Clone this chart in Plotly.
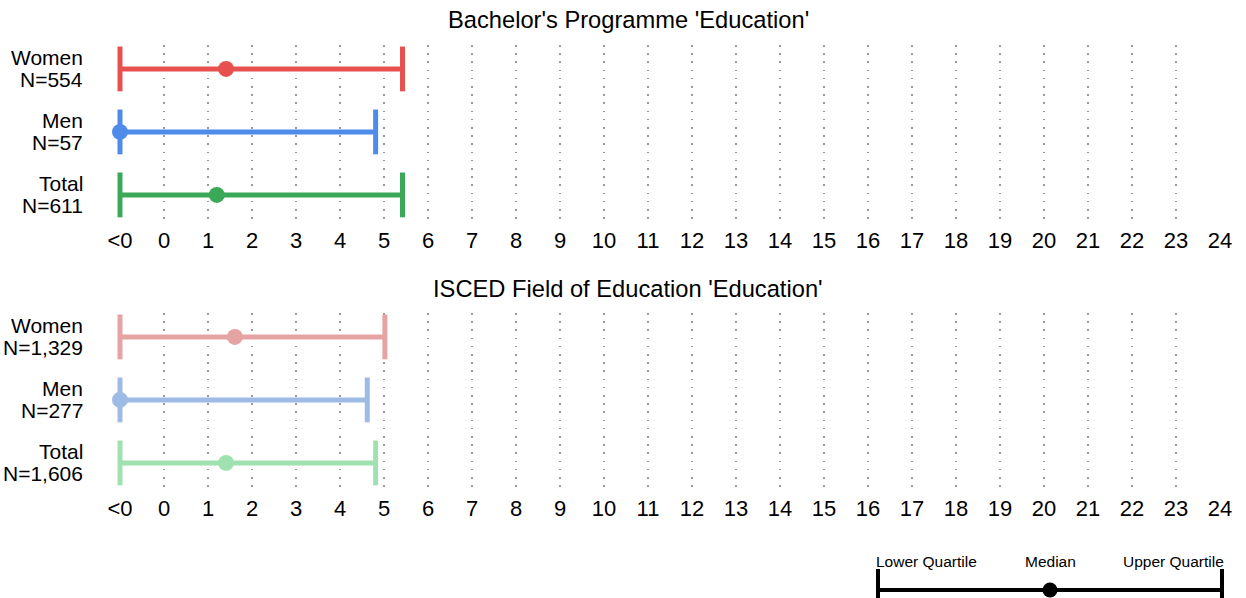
import plotly.graph_objects as go

# ---------------- data ----------------
x_positions = list(range(-1, 25))
x_labels = ["<0"] + [str(i) for i in range(25)]

groups = ["Women", "Men", "Total"]

panel1_title = "Bachelor's Programme 'Education'"
panel1_n = ["554", "57", "611"]
panel1_lower = [-1, -1, -1]
panel1_median = [1.41, -1, 1.2]
panel1_upper = [5.42, 4.81, 5.42]

panel2_title = "ISCED Field of Education 'Education'"
panel2_n = ["1,329", "277", "1,606"]
panel2_lower = [-1, -1, -1]
panel2_median = [1.61, -1, 1.41]
panel2_upper = [5.02, 4.62, 4.81]

legend_labels = ["Lower Quartile", "Median", "Upper Quartile"]
legend_values = [0, 0.5, 1]

# ---------------- styles ----------------
W, H = 1246, 598
FONT = "Liberation Sans, Arial, sans-serif"
colors1 = ["#E8504F", "#4F8BE8", "#3BA857"]
colors2 = ["#E5A3A3", "#9DBBE5", "#9FE2B0"]


def py(px):
    return 1 - px / H


def px_x(px):
    return px / W


fig = go.Figure()
annotations = []

panels = [
    (panel1_title, panel1_n, panel1_lower, panel1_median, panel1_upper, colors1, "x", "y"),
    (panel2_title, panel2_n, panel2_lower, panel2_median, panel2_upper, colors2, "x2", "y2"),
]

for title, ns, lows, meds, ups, cols, xa, ya in panels:
    for g, n, lo, me, up, c in zip(groups, ns, lows, meds, ups, cols):
        # range line
        fig.add_trace(go.Scatter(
            x=[lo, up], y=[g, g], mode="lines",
            line=dict(color=c, width=5), xaxis=xa, yaxis=ya,
            showlegend=False, hoverinfo="skip", cliponaxis=False))
        # caps
        fig.add_trace(go.Scatter(
            x=[lo, up], y=[g, g], mode="markers",
            marker=dict(symbol="line-ns", size=32, line=dict(color=c, width=5)),
            xaxis=xa, yaxis=ya, showlegend=False, hoverinfo="skip", cliponaxis=False))
        # median
        fig.add_trace(go.Scatter(
            x=[me], y=[g], mode="markers",
            marker=dict(symbol="circle", size=16, color=c, line=dict(width=0)),
            xaxis=xa, yaxis=ya, showlegend=False, cliponaxis=False))
        # row labels (two lines)
        for txt, shift in [(g, 11), (f"N={n}", -11)]:
            annotations.append(dict(
                x=px_x(85), y=g, xref="paper", yref=ya, text=txt, yshift=shift,
                showarrow=False, xanchor="right", yanchor="middle",
                font=dict(size=21, color="black", family=FONT)))

# legend key
fig.add_trace(go.Scatter(
    x=[legend_values[0], legend_values[2]], y=[0, 0], mode="lines",
    line=dict(color="black", width=4), xaxis="x3", yaxis="y3",
    showlegend=False, hoverinfo="skip", cliponaxis=False))
fig.add_trace(go.Scatter(
    x=[legend_values[0], legend_values[2]], y=[0, 0], mode="markers",
    marker=dict(symbol="line-ns", size=30, line=dict(color="black", width=4)),
    xaxis="x3", yaxis="y3", showlegend=False, hoverinfo="skip", cliponaxis=False))
fig.add_trace(go.Scatter(
    x=[legend_values[1]], y=[0], mode="markers",
    marker=dict(symbol="circle", size=15, color="black"),
    xaxis="x3", yaxis="y3", showlegend=False, hoverinfo="skip", cliponaxis=False))

anchors = ["left", "center", "right"]
shifts = [-4, 0, 4]
for lab, v, anc, sh in zip(legend_labels, legend_values, anchors, shifts):
    annotations.append(dict(
        x=v, y=py(561), xref="x3", yref="paper", text=lab, showarrow=False,
        xanchor=anc, yanchor="middle", xshift=sh,
        font=dict(size=15.5, color="black", family=FONT)))

for title, ypx in [(panel1_title, 20), (panel2_title, 289)]:
    annotations.append(dict(
        x=px_x(628), y=py(ypx), xref="paper", yref="paper", text=title,
        showarrow=False, xanchor="center", yanchor="middle",
        font=dict(size=23.7, color="black", family=FONT)))

xaxis_common = dict(
    range=[-1, 24], tickmode="array", tickvals=x_positions, ticktext=x_labels,
    showgrid=True, gridcolor="#9a9a9a", gridwidth=1.6, griddash="1.6px,6.6px",
    zeroline=False, showline=False, ticks="", automargin=False,
    ticklabelstandoff=3,
    tickfont=dict(size=22, color="black", family=FONT),
    domain=[px_x(120), px_x(1220)], fixedrange=True,
)


def yaxis_common(top_px, bot_px):
    return dict(
        type="category", categoryorder="array", categoryarray=groups[::-1],
        range=[-0.43, 2.38], domain=[py(bot_px), py(top_px)],
        showgrid=False, zeroline=False, showline=False, ticks="",
        showticklabels=False, automargin=False, fixedrange=True,
    )


fig.update_layout(
    width=W, height=H,
    template="none",
    margin=dict(l=0, r=0, t=0, b=0, autoexpand=False),
    paper_bgcolor="white", plot_bgcolor="white",
    font=dict(family=FONT, color="black"),
    xaxis=dict(**xaxis_common, anchor="y"),
    yaxis=dict(**yaxis_common(45, 222), anchor="x"),
    xaxis2=dict(**xaxis_common, anchor="y2"),
    yaxis2=dict(**yaxis_common(313, 490), anchor="x2"),
    xaxis3=dict(range=[0, 1], domain=[px_x(878), px_x(1222)], visible=False,
                anchor="y3", fixedrange=True, automargin=False),
    yaxis3=dict(range=[-1, 1], domain=[0, 2 * (1 - 590 / H)],
                visible=False, anchor="x3", fixedrange=True, automargin=False),
    annotations=annotations,
    showlegend=False,
)

fig.write_html("out.html", config={"displayModeBar": False},
               post_script="document.body.style.margin='0px';")
